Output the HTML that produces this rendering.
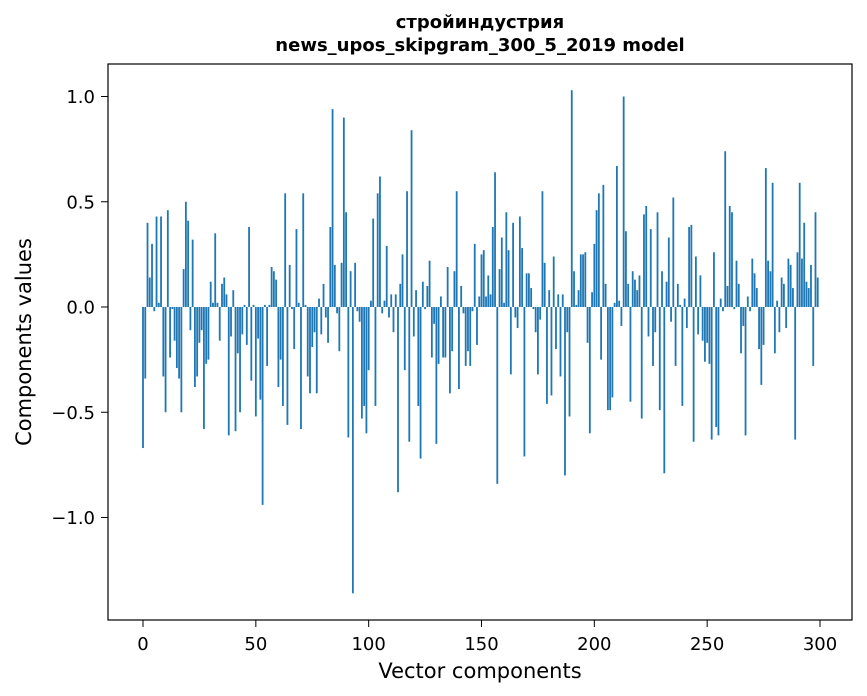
<!DOCTYPE html>
<html><head><meta charset="utf-8"><style>
body{margin:0;background:#fff;}
svg{display:block;font-family:"DejaVu Sans","Liberation Sans",sans-serif;}
</style></head><body>
<svg id="chart" width="867" height="696" viewBox="0 0 867 696">
<text x="480" y="28" text-anchor="middle" font-size="18" font-weight="bold">стройиндустрия</text>
<text x="480" y="51" text-anchor="middle" font-size="18" font-weight="bold">news_upos_skipgram_300_5_2019 model</text>
<g id="bars"></g>
<rect x="108" y="64" width="744" height="556" fill="none" stroke="#000" stroke-width="1.2"/>
<g id="xticks"></g>
<g id="yticks"></g>
<text x="480" y="678" text-anchor="middle" font-size="21">Vector components</text>
<text transform="translate(31,342) rotate(-90)" text-anchor="middle" font-size="21">Components values</text>
</svg>
<script>
const values = [
-0.67,-0.34,0.40,0.14,0.30,-0.02,0.43,0.02,0.43,-0.33,
-0.50,0.46,-0.24,-0.01,-0.16,-0.29,-0.34,-0.50,0.18,0.50,
0.41,-0.11,0.32,-0.38,-0.33,-0.17,-0.11,-0.58,-0.27,-0.25,
0.12,0.02,0.35,0.02,-0.16,0.11,0.14,0.06,-0.61,-0.14,
0.08,-0.59,-0.22,-0.50,-0.13,0.01,-0.18,0.38,-0.35,0.01,
-0.52,-0.15,-0.44,-0.94,0.01,-0.28,0.01,0.19,0.17,0.13,
-0.38,-0.25,-0.47,0.54,-0.56,0.20,-0.01,-0.20,0.37,0.02,
-0.58,0.54,0.01,-0.33,-0.41,-0.19,-0.12,-0.41,0.04,-0.13,
0.11,-0.05,-0.17,0.38,0.94,0.20,-0.03,-0.21,0.21,0.90,
0.45,-0.62,0.17,-1.36,0.21,-0.02,-0.07,-0.53,-0.47,-0.60,
-0.30,0.03,0.42,-0.47,0.54,0.62,-0.03,0.03,0.29,-0.05,
0.06,-0.12,0.06,-0.88,0.11,0.25,-0.30,0.55,-0.64,0.84,
-0.14,0.08,-0.47,-0.72,0.12,-0.01,0.10,0.22,-0.24,-0.08,
-0.65,-0.27,0.05,-0.24,-0.24,0.19,-0.41,-0.21,0.17,0.55,
-0.39,0.10,-0.03,-0.28,-0.21,-0.28,-0.02,0.30,-0.18,0.05,
0.25,0.27,0.05,0.15,0.06,0.38,0.64,-0.84,0.18,0.33,
0.02,0.45,0.27,-0.32,0.40,-0.05,-0.10,0.43,0.28,-0.71,
0.16,0.16,0.09,-0.01,-0.12,-0.32,-0.06,0.55,0.21,-0.46,
0.08,-0.42,0.24,-0.20,0.06,-0.33,0.06,-0.80,-0.12,-0.52,
1.03,0.17,0.01,0.08,0.25,0.25,0.26,-0.17,-0.60,0.07,
0.30,0.46,0.54,-0.25,0.58,0.11,-0.49,-0.49,-0.43,0.02,
0.67,0.03,-0.09,1.00,0.36,0.11,-0.45,0.17,0.13,0.08,
0.15,-0.53,0.44,0.48,-0.14,0.37,-0.28,-0.12,0.45,-0.49,
0.17,-0.79,0.12,0.33,-0.07,0.52,-0.28,0.11,0.01,-0.47,
0.04,-0.10,0.38,0.39,-0.64,0.24,-0.13,0.15,-0.16,-0.26,
-0.17,-0.27,-0.63,0.26,-0.57,-0.61,0.04,-0.02,0.74,0.10,
0.48,0.45,-0.01,0.22,0.11,-0.22,-0.09,-0.61,0.05,-0.02,
0.23,0.16,0.09,-0.20,-0.37,-0.18,0.66,0.22,0.17,0.59,
-0.22,0.03,-0.12,0.14,0.11,-0.10,0.23,0.20,0.09,-0.63,
0.26,0.59,0.23,0.40,0.12,0.09,0.20,-0.28,0.45,0.14
];
const xTickValues = [0,50,100,150,200,250,300];
const yTickValues = [1.0,0.5,0.0,-0.5,-1.0];
const yTickLabels = ["1.0","0.5","0.0","\u22120.5","\u22121.0"];

const NS = "http://www.w3.org/2000/svg";
const xScale = i => 143 + i * (677 / 300);
const yScale = v => 307 - v * 210.5;
const barW = 0.8 * (677 / 300);

const gb = document.getElementById('bars');
values.forEach((v, i) => {
  const r = document.createElementNS(NS, 'rect');
  const y0 = yScale(0), y1 = yScale(v);
  r.setAttribute('x', xScale(i) - barW / 2);
  r.setAttribute('y', Math.min(y0, y1));
  r.setAttribute('width', barW);
  r.setAttribute('height', Math.max(Math.abs(y1 - y0), 0.3));
  r.setAttribute('fill', '#1f77b4');
  
  
  gb.appendChild(r);
});

const gx = document.getElementById('xticks');
xTickValues.forEach(t => {
  const x = xScale(t);
  const l = document.createElementNS(NS, 'line');
  l.setAttribute('x1', x); l.setAttribute('x2', x);
  l.setAttribute('y1', 620); l.setAttribute('y2', 627);
  l.setAttribute('stroke', '#000');
  
  
  gx.appendChild(l);
  const tx = document.createElementNS(NS, 'text');
  tx.setAttribute('x', x); tx.setAttribute('y', 650);
  tx.setAttribute('text-anchor', 'middle');
  tx.setAttribute('font-size', '18');
  
  
  tx.textContent = String(t);
  gx.appendChild(tx);
});

const gy = document.getElementById('yticks');
yTickValues.forEach((t, k) => {
  const y = yScale(t);
  const l = document.createElementNS(NS, 'line');
  l.setAttribute('x1', 101); l.setAttribute('x2', 108);
  l.setAttribute('y1', y); l.setAttribute('y2', y);
  l.setAttribute('stroke', '#000');
  
  
  gy.appendChild(l);
  const tx = document.createElementNS(NS, 'text');
  tx.setAttribute('x', 95); tx.setAttribute('y', y + 6.5);
  tx.setAttribute('text-anchor', 'end');
  tx.setAttribute('font-size', '18');
  
  
  tx.textContent = yTickLabels[k];
  gy.appendChild(tx);
});
</script>
</body></html>
